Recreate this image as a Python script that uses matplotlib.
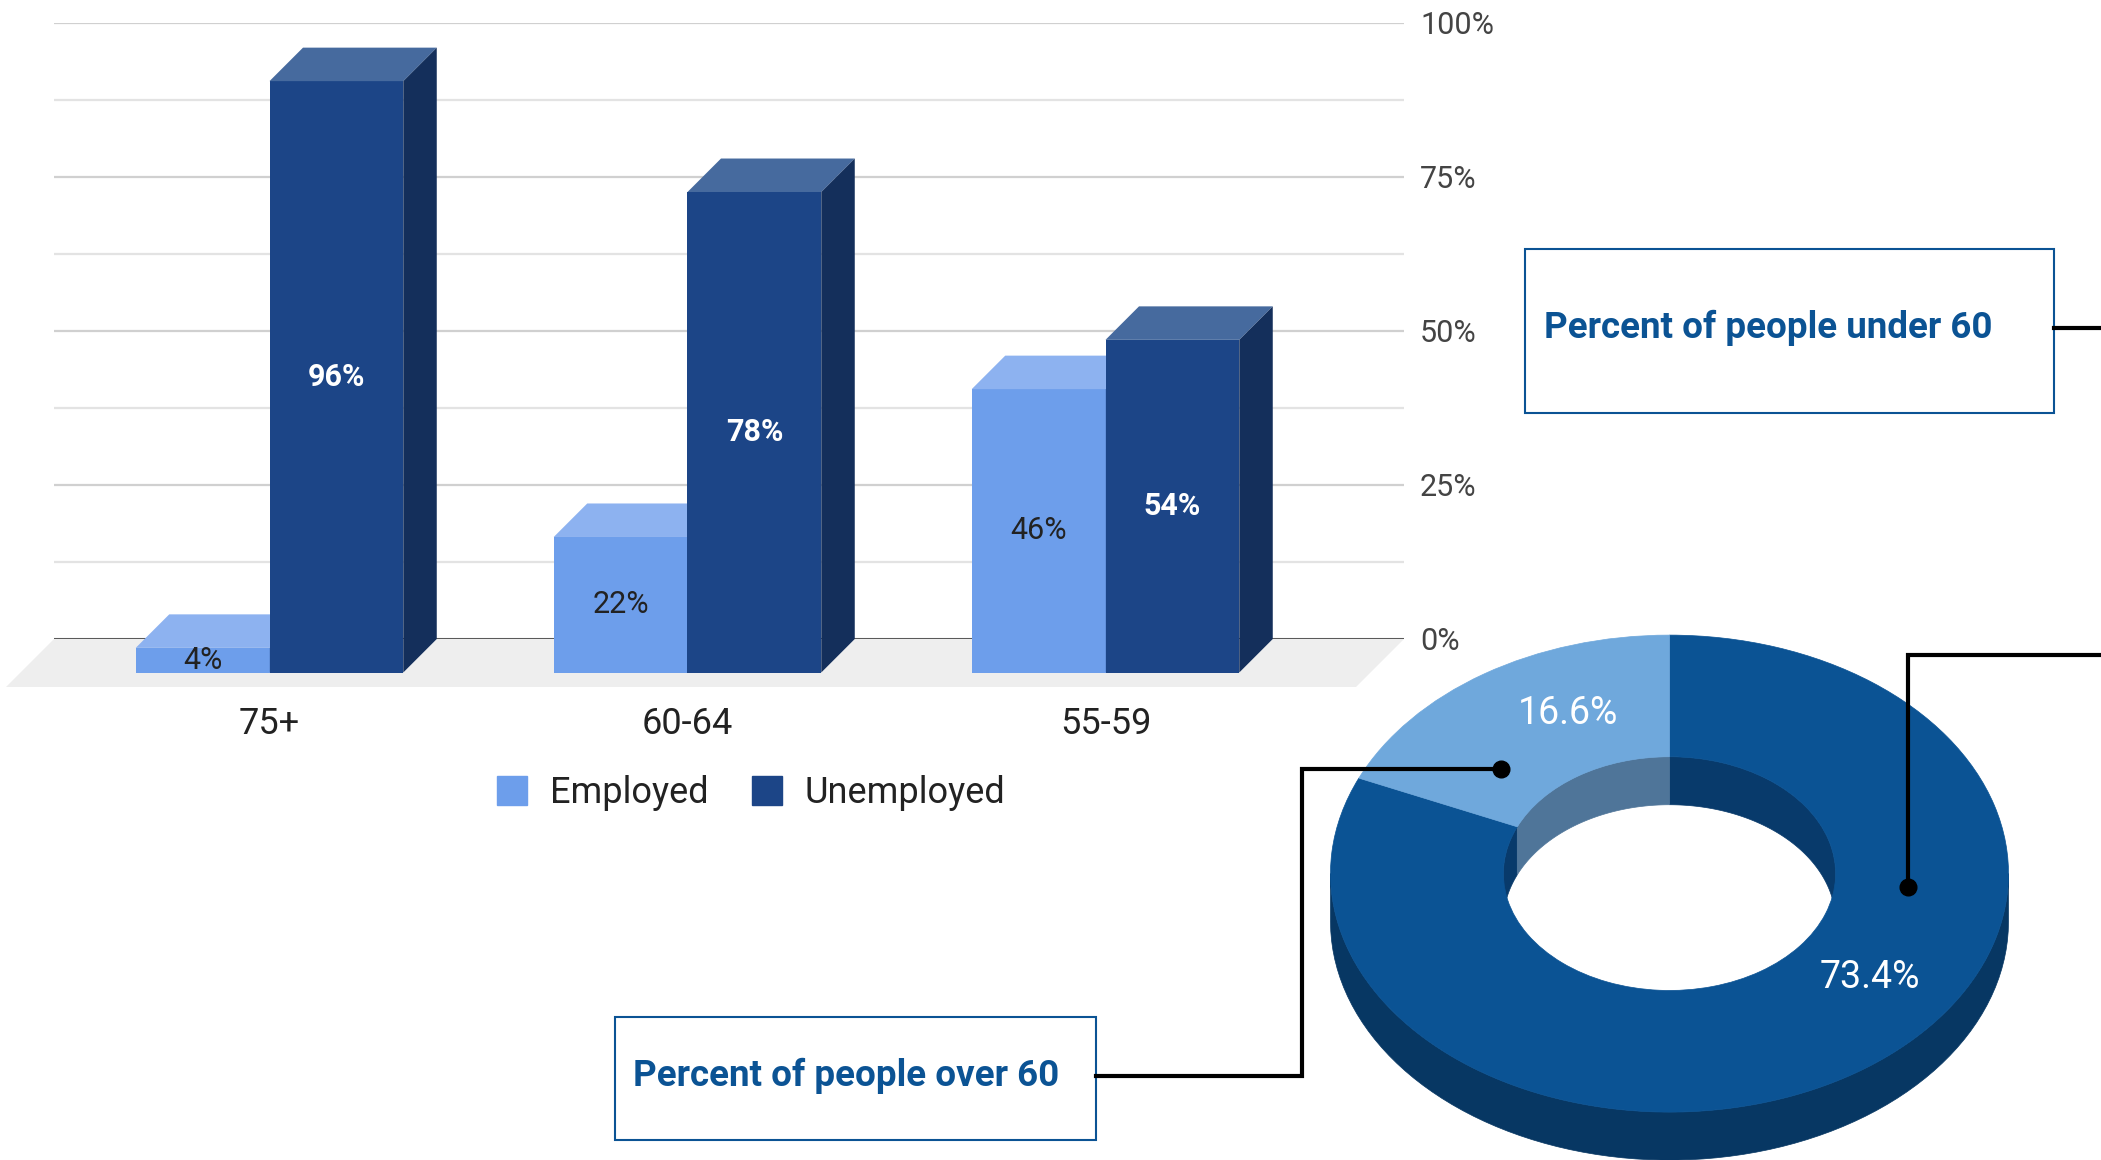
import numpy as np
import matplotlib
matplotlib.use("Agg")
import matplotlib.pyplot as plt
from matplotlib.patches import Polygon, Rectangle, Wedge, Patch
from matplotlib.transforms import Affine2D

plt.rcParams["font.family"] = ["Roboto", "DejaVu Sans"]

# bar chart data
age_groups = ["75+", "60-64", "55-59"]
employed = [4, 22, 46]
unemployed = [96, 78, 54]
series_names = ["Employed", "Unemployed"]
y_ticks = [0, 25, 50, 75, 100]

# donut data
donut_values = [73.4, 16.6]
donut_labels = ["73.4%", "16.6%"]

box_under = "Percent of people under 60"
box_over = "Percent of people over 60"

W, H = 2101, 1160

# colours: (front, top, side)
emp_cols = ("#6d9eeb", "#8db2f0", "#5784cc")
unemp_cols = ("#1c4587", "#466a9e", "#142f5b")
donut_top = ["#0b5394", "#6fa8dc"]
donut_outer_wall = ["#073763", "#5a8cbc"]
donut_inner_wall = ["#083a6b", "#4f7599"]
box_blue = "#0b5394"


def overlap(t1, t2, lo, hi):
    out = []
    for k in (-720, -360, 0, 360):
        s, e = max(t1 + k, lo), min(t2 + k, hi)
        if e > s:
            out.append((s, e))
    return out


def main():
    fig = plt.figure(figsize=(W / 100, H / 100), dpi=100)

    # ---- bar chart (axes = back plane of the 3D chart) ----
    ax_l, ax_r = 54, 1404
    y0_px, y100_px = 639, 23
    ax = fig.add_axes([ax_l / W, 1 - y0_px / H, (ax_r - ax_l) / W, (y0_px - y100_px) / H])
    group_px = 418
    first_px = 303
    xmin = -(first_px - ax_l) / group_px
    xmax = xmin + (ax_r - ax_l) / group_px
    ax.set_xlim(xmin, xmax)
    ax.set_ylim(0, 100)
    px_y = (y0_px - y100_px) / 100.0

    dx = 33.5 / group_px
    dy = 33.5 / px_y
    fdx = 48 / group_px
    fdy = 48 / px_y
    bw = 0.32

    for s in ax.spines.values():
        s.set_visible(False)
    ax.set_xticks([])
    ax.set_yticks(y_ticks)
    ax.set_yticks([(a + b) / 2 for a, b in zip(y_ticks[:-1], y_ticks[1:])], minor=True)
    ax.set_yticklabels([f"{t}%" for t in y_ticks])
    ax.yaxis.tick_right()
    ax.tick_params(axis="y", which="both", length=0, pad=11.5, labelsize=22, labelcolor="#444444")
    ax.set_axisbelow(True)
    ax.grid(axis="y", which="major", color="#d0d0d0", lw=1.6)
    ax.grid(axis="y", which="minor", color="#e3e3e3", lw=1.6)

    # floor
    floor = Polygon([(xmin, 0), (xmax, 0), (xmax - fdx, -fdy), (xmin - fdx, -fdy)],
                    closed=True, facecolor="#eeeeee", edgecolor="none", clip_on=False, zorder=1)
    ax.add_patch(floor)
    ax.axhline(0, color="#333333", lw=1.8, zorder=2)

    x = np.arange(len(age_groups))
    for j, (vals, cols) in enumerate([(employed, emp_cols), (unemployed, unemp_cols)]):
        xc = x + (j - 0.5) * bw
        z = 3 + j
        ax.bar(xc - dx, vals, bw, bottom=-dy, color=cols[0], clip_on=False, zorder=z)
        for xi, v in zip(xc, vals):
            x0 = xi - bw / 2 - dx
            top = Polygon([(x0, v - dy), (x0 + bw, v - dy), (x0 + bw + dx, v), (x0 + dx, v)],
                          closed=True, facecolor=cols[1], edgecolor="none", clip_on=False, zorder=z)
            side = Polygon([(x0 + bw, -dy), (x0 + bw + dx, 0), (x0 + bw + dx, v), (x0 + bw, v - dy)],
                           closed=True, facecolor=cols[2], edgecolor="none", clip_on=False, zorder=z)
            ax.add_patch(top)
            ax.add_patch(side)
            ax.text(xi - dx, v / 2 - dy, f"{v}%", ha="center", va="center", fontsize=22,
                    color="white" if j == 1 else "#222222",
                    fontweight="bold" if j == 1 else "normal", zorder=10)

    cat_y = (y0_px - 723.5) / px_y
    for xi, name in zip(x, age_groups):
        ax.text(xi - dx, cat_y, name, ha="center", va="center", fontsize=26, color="#222222")

    handles = [Patch(color=emp_cols[0]), Patch(color=unemp_cols[0])]
    leg = fig.legend(handles, series_names, loc="center", bbox_to_anchor=(751 / W, 1 - 793 / H),
                     ncol=2, frameon=False, fontsize=26, handlelength=0.83, handleheight=0.83,
                     handletextpad=0.63, columnspacing=1.2)
    for t in leg.get_texts():
        t.set_color("#222222")

    # ---- overlay in pixel coords: donut, boxes, connectors ----
    ov = fig.add_axes([0, 0, 1, 1])
    ov.set_xlim(0, W)
    ov.set_ylim(H, 0)
    ov.axis("off")

    cx, cy = 1669.5, 873.6
    a, b = 339, 238.5
    ri = 0.49
    thick = 48
    tr = Affine2D().scale(a, -b).translate(cx, cy) + ov.transData

    fracs = np.array(donut_values) / sum(donut_values)
    starts = 90 - 360 * np.concatenate([[0], np.cumsum(fracs)[:-1]])
    spans = []
    for k, f in enumerate(fracs):
        th2 = starts[k]
        th1 = th2 - 360 * f
        spans.append((th1, th2))

    # outer (front) wall and inner (back) wall
    for k, (th1, th2) in enumerate(spans):
        for s, e in overlap(th1, th2, 180, 360):
            th = np.radians(np.linspace(s, e, 80))
            xs = cx + a * np.cos(th)
            ys = cy - b * np.sin(th)
            pts = np.column_stack([np.r_[xs, xs[::-1]], np.r_[ys, ys[::-1] + thick]])
            ov.add_patch(Polygon(pts, closed=True, facecolor=donut_outer_wall[k],
                                 edgecolor=donut_outer_wall[k], lw=0.5, zorder=2))
        for s, e in overlap(th1, th2, 0, 180):
            th = np.radians(np.linspace(s, e, 80))
            xs = cx + a * ri * np.cos(th)
            ys = cy - b * ri * np.sin(th)
            pts = np.column_stack([np.r_[xs, xs[::-1]], np.r_[ys, ys[::-1] + thick]])
            ov.add_patch(Polygon(pts, closed=True, facecolor=donut_inner_wall[k],
                                 edgecolor=donut_inner_wall[k], lw=0.5, zorder=2))

    for k, (th1, th2) in enumerate(spans):
        w = Wedge((0, 0), 1.0, th1, th2, width=1 - ri, facecolor=donut_top[k],
                  edgecolor=donut_top[k], lw=0.5, transform=tr, zorder=3)
        ov.add_patch(w)

    label_angles = [323.6, 114]
    for lab, ang in zip(donut_labels, label_angles):
        r = 0.735
        lx = cx + a * r * np.cos(np.radians(ang))
        ly = cy - b * r * np.sin(np.radians(ang))
        ov.text(lx, ly, lab, ha="center", va="center", fontsize=27, color="white",
                fontweight="normal", zorder=5)

    # text boxes
    ov.add_patch(Rectangle((1525, 249), 529, 164, facecolor="white", edgecolor=box_blue,
                           lw=1.5, zorder=4))
    ov.text(1544, 328, box_under, fontsize=26.5, fontweight="bold", color=box_blue,
            va="center", ha="left", zorder=5)
    ov.add_patch(Rectangle((615, 1017), 481, 123, facecolor="white", edgecolor=box_blue,
                           lw=1.5, zorder=4))
    ov.text(633, 1076, box_over, fontsize=26.5, fontweight="bold", color=box_blue,
            va="center", ha="left", zorder=5)

    # connectors
    ov.plot([1096, 1302, 1302, 1501], [1076, 1076, 769, 769], color="black", lw=3,
            solid_joinstyle="miter", zorder=6)
    ov.plot([1501], [769], "o", color="black", ms=12, zorder=6)
    ov.plot([2054, 2101], [328, 328], color="black", lw=3, zorder=6)
    ov.plot([1908, 1908, 2101], [887, 655, 655], color="black", lw=3,
            solid_joinstyle="miter", zorder=6)
    ov.plot([1908], [887], "o", color="black", ms=12, zorder=6)

    fig.savefig("out.png", dpi=100)


if __name__ == "__main__":
    main()
